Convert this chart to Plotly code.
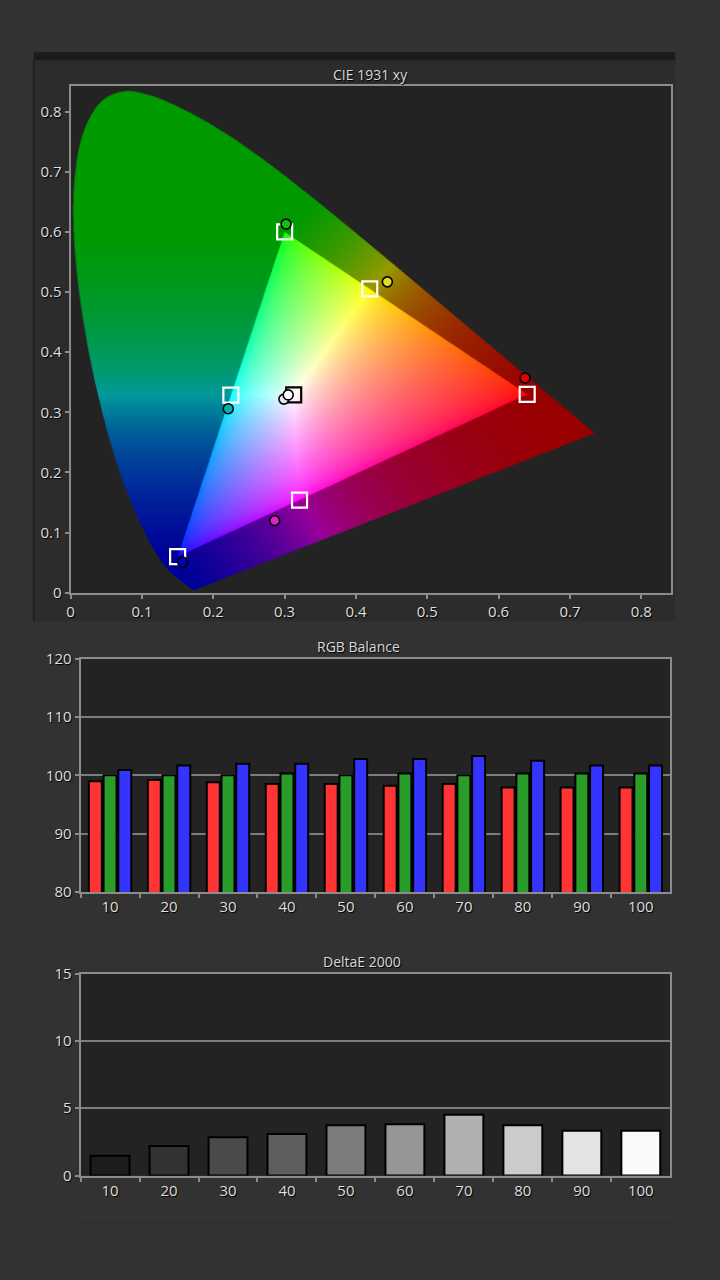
import base64, struct, zlib
import numpy as np
import plotly.graph_objects as go

# CIE 1931 2-degree spectral locus, 380-700 nm (5 nm steps)
locus_x = [0.1741, 0.1740, 0.1738, 0.1736, 0.1733, 0.1730, 0.1726, 0.1721, 0.1714, 0.1703,
           0.1689, 0.1669, 0.1644, 0.1611, 0.1566, 0.1510, 0.1440, 0.1355, 0.1241, 0.1096,
           0.0913, 0.0687, 0.0454, 0.0235, 0.0082, 0.0039, 0.0139, 0.0389, 0.0743, 0.1142,
           0.1547, 0.1929, 0.2296, 0.2658, 0.3016, 0.3373, 0.3731, 0.4087, 0.4441, 0.4788,
           0.5125, 0.5448, 0.5752, 0.6029, 0.6270, 0.6482, 0.6658, 0.6801, 0.6915, 0.7006,
           0.7079, 0.7140, 0.7190, 0.7230, 0.7260, 0.7283, 0.7300, 0.7311, 0.7320, 0.7327,
           0.7334, 0.7340, 0.7344, 0.7346, 0.7347]
locus_y = [0.0050, 0.0050, 0.0049, 0.0049, 0.0048, 0.0048, 0.0048, 0.0048, 0.0051, 0.0058,
           0.0069, 0.0086, 0.0109, 0.0138, 0.0177, 0.0227, 0.0297, 0.0399, 0.0578, 0.0868,
           0.1327, 0.2007, 0.2950, 0.4127, 0.5384, 0.6548, 0.7502, 0.8120, 0.8338, 0.8262,
           0.8059, 0.7816, 0.7543, 0.7243, 0.6923, 0.6589, 0.6245, 0.5896, 0.5547, 0.5202,
           0.4866, 0.4544, 0.4242, 0.3965, 0.3725, 0.3514, 0.3340, 0.3197, 0.3083, 0.2993,
           0.2920, 0.2859, 0.2809, 0.2770, 0.2740, 0.2717, 0.2700, 0.2689, 0.2680, 0.2673,
           0.2666, 0.2660, 0.2656, 0.2654, 0.2653]

# Rec.709 targets (R, G, B, C, M, Y, W)
target_x = [0.640, 0.300, 0.150, 0.2246, 0.3209, 0.4193, 0.3127]
target_y = [0.330, 0.600, 0.060, 0.3287, 0.1542, 0.5053, 0.3290]
target_col = ["white", "white", "white", "white", "white", "white", "black"]

# measured points
meas_x = [0.637, 0.302, 0.157, 0.221, 0.286, 0.444, 0.299, 0.305]
meas_y = [0.357, 0.613, 0.051, 0.306, 0.120, 0.517, 0.322, 0.329]
meas_col = ["#e00000", "#10c010", "#0000b8", "#00b4b4", "#e020c8", "#e0e020", "#e8e8e8", "#ffffff"]

levels = ["10", "20", "30", "40", "50", "60", "70", "80", "90", "100"]
red = [99.0, 99.2, 98.8, 98.5, 98.5, 98.2, 98.5, 97.9, 97.9, 97.9]
green = [100.0, 100.0, 100.0, 100.3, 100.0, 100.3, 100.0, 100.3, 100.3, 100.3]
blue = [100.9, 101.7, 102.0, 102.0, 102.8, 102.8, 103.3, 102.5, 101.7, 101.7]

delta_e = [1.47, 2.2, 2.84, 3.09, 3.73, 3.82, 4.51, 3.73, 3.33, 3.33]
delta_col = ["#1c1c1c", "#323232", "#4a4a4a", "#5e5e5e", "#7c7c7c",
             "#969696", "#b0b0b0", "#cbcbcb", "#e4e4e4", "#fafafa"]

PAGE_W, PAGE_H = 720, 1280


def px_x(p):
    return p / PAGE_W


def px_y(p):
    return 1 - p / PAGE_H


# ---- chromaticity background, rendered into a png ----
X_HI, Y_HI = 0.74, 0.84
W, H, SS = 540, 520, 2
xs = (np.arange(W * SS) + 0.5) / (W * SS) * X_HI
ys = (np.arange(H * SS) + 0.5) / (H * SS) * Y_HI
gx, gy = np.meshgrid(xs, ys[::-1])  # top row first

# smooth outline through the locus points (catmull-rom), closed by the purple line
P = np.column_stack([locus_x, locus_y])
P = np.vstack([P[0], P, P[-1]])
outline = []
for k in range(1, len(P) - 2):
    p0, p1, p2, p3 = P[k - 1], P[k], P[k + 1], P[k + 2]
    for t in np.linspace(0, 1, 8, endpoint=False):
        outline.append(0.5 * (2 * p1 + (p2 - p0) * t + (2 * p0 - 5 * p1 + 4 * p2 - p3) * t ** 2
                              + (3 * p1 - p0 - 3 * p2 + p3) * t ** 3))
outline.append(P[-2])
outline = np.array(outline)

# the horseshoe is convex: per row, keep x between the leftmost and rightmost crossing
ax, ay = outline[:, 0], outline[:, 1]
bx, by = np.roll(ax, -1), np.roll(ay, -1)
left = np.full(ys.shape, np.inf)
right = np.full(ys.shape, -np.inf)
for i in range(len(ax)):
    lo, hi = min(ay[i], by[i]), max(ay[i], by[i])
    rows = (ys >= lo) & (ys < hi)
    if not rows.any():
        continue
    xi = ax[i] + (bx[i] - ax[i]) * (ys[rows] - ay[i]) / (by[i] - ay[i])
    left[rows] = np.minimum(left[rows], xi)
    right[rows] = np.maximum(right[rows], xi)
left, right = left[::-1], right[::-1]
inside = (gx >= left[:, None]) & (gx <= right[:, None])

M = np.array([[3.2406, -1.5372, -0.4986],
              [-0.9689, 1.8758, 0.0415],
              [0.0557, -0.2040, 1.0570]])


def xy_to_rgb(x, y):
    y = np.maximum(y, 1e-4)
    XYZ = np.stack([x / y, np.ones_like(x), (1 - x - y) / y])
    lin = np.einsum("ij,jhw->ihw", M, XYZ)
    lin = np.clip(lin, 0, None)
    return lin / np.maximum(lin.max(axis=0), 1e-9)


def project(px, py, a, b):
    dx, dy = b[0] - a[0], b[1] - a[1]
    t = np.clip(((px - a[0]) * dx + (py - a[1]) * dy) / (dx * dx + dy * dy), 0, 1)
    return a[0] + t * dx, a[1] + t * dy


yy = np.maximum(gy, 1e-4)
lin = np.einsum("ij,jhw->ihw", M, np.stack([gx / yy, np.ones_like(gx), (1 - gx - gy) / yy]))
pr, pg, pb = [(target_x[k], target_y[k]) for k in range(3)]

out_left = lin[0] < 0
out_top = ~out_left & (lin[2] < 0)
out_bot = ~out_left & ~out_top & (lin[1] < 0)
in_gamut = ~(out_left | out_top | out_bot)

# outside the gamut: darker colour of the triangle edge point
t = np.clip((gy - pb[1]) / (pg[1] - pb[1]), 0, 1)
ex, ey = pb[0] + t * (pg[0] - pb[0]), pb[1] + t * (pg[1] - pb[1])
tx, ty = project(gx, gy, pg, pr)
ex, ey = np.where(out_top, tx, ex), np.where(out_top, ty, ey)
tx, ty = project(gx, gy, pb, pr)
ex, ey = np.where(out_bot, tx, ex), np.where(out_bot, ty, ey)
edge_col = 0.6 * xy_to_rgb(ex, ey)
inner_col = xy_to_rgb(gx, gy) ** (1 / 1.8)
col = np.where(in_gamut, inner_col, edge_col)

a = inside.astype(float)
rgb_a = (col * a).reshape(3, H, SS, W, SS).sum(axis=(2, 4))
a_sum = a.reshape(H, SS, W, SS).sum(axis=(1, 3))
rgb_img = rgb_a / np.maximum(a_sum, 1e-9)
alpha = a_sum / (SS * SS)
img = np.concatenate([rgb_img, alpha[None]], axis=0).transpose(1, 2, 0)
img = np.clip(img * 255 + 0.5, 0, 255).astype(np.uint8)


def png_uri(arr):
    h, w, _ = arr.shape
    raw = b"".join(b"\x00" + arr[r].tobytes() for r in range(h))

    def chunk(tag, data):
        return (struct.pack(">I", len(data)) + tag + data
                + struct.pack(">I", zlib.crc32(tag + data) & 0xffffffff))

    png = (b"\x89PNG\r\n\x1a\n"
           + chunk(b"IHDR", struct.pack(">IIBBBBB", w, h, 8, 6, 0, 0, 0))
           + chunk(b"IDAT", zlib.compress(raw, 9))
           + chunk(b"IEND", b""))
    return "data:image/png;base64," + base64.b64encode(png).decode()


fig = go.Figure()

# CIE targets and measurements
fig.add_trace(go.Scatter(x=target_x, y=target_y, mode="markers", xaxis="x", yaxis="y",
                         marker=dict(symbol="square-open", size=15, color=target_col,
                                     line=dict(width=2.2)),
                         hoverinfo="skip"))
fig.add_trace(go.Scatter(x=meas_x, y=meas_y, mode="markers", xaxis="x", yaxis="y",
                         marker=dict(symbol="circle", size=10, color=meas_col,
                                     line=dict(color="black", width=1.6)),
                         hoverinfo="skip"))

# RGB balance
for vals, col in [(red, "#ff3434"), (green, "#2a9c2a"), (blue, "#3434ff")]:
    fig.add_trace(go.Bar(x=levels, y=vals, xaxis="x2", yaxis="y2",
                         marker=dict(color=col, line=dict(color="black", width=2))))

# DeltaE 2000
fig.add_trace(go.Bar(x=levels, y=delta_e, xaxis="x3", yaxis="y3",
                     marker=dict(color=delta_col, line=dict(color="black", width=2))))

frame = dict(showline=True, mirror=True, linecolor="#8c8c8c", linewidth=2,
             ticks="outside", ticklen=4, tickwidth=2, tickcolor="#8c8c8c",
             zeroline=False, fixedrange=True)

fig.update_layout(
    width=PAGE_W, height=PAGE_H,
    margin=dict(l=0, r=0, t=0, b=0),
    paper_bgcolor="#323232", plot_bgcolor="#232323",
    showlegend=False,
    barmode="group", bargap=0.25, bargroupgap=0.12,
    font=dict(family="Open Sans", size=15, color="#dedede",
              shadow="1px 1px 1px #000"),
    xaxis=dict(domain=[px_x(67), px_x(671)], range=[0, 0.842], anchor="y",
               dtick=0.1, showgrid=False, **frame),
    yaxis=dict(domain=[px_y(591), px_y(76)], range=[0, 0.843], anchor="x",
               dtick=0.1, showgrid=False, **frame),
    xaxis2=dict(domain=[px_x(77), px_x(670)], anchor="y2", type="category",
                tickson="boundaries", showgrid=False, **frame),
    yaxis2=dict(domain=[px_y(895), px_y(658)], range=[80, 120], anchor="x2",
                dtick=10, showgrid=True, gridcolor="#7c7c7c", gridwidth=2, **frame),
    xaxis3=dict(domain=[px_x(77), px_x(670)], anchor="y3", type="category",
                tickson="boundaries", showgrid=False, **frame),
    yaxis3=dict(domain=[px_y(1183), px_y(978)], range=[0, 15], anchor="x3",
                dtick=5, showgrid=True, gridcolor="#7c7c7c", gridwidth=2, **frame),
)

fig.add_layout_image(source=png_uri(img), xref="x", yref="y", x=0, y=Y_HI,
                     sizex=X_HI, sizey=Y_HI, sizing="stretch",
                     xanchor="left", yanchor="top", layer="below")

# panel around the CIE chart (strips that stay out of the plot area)
panel = "#2c2c2c"
for x0, y0, x1, y1 in [(30, 50, 675, 76), (30, 591, 675, 620),
                       (30, 76, 67, 591), (671, 76, 675, 591)]:
    fig.add_shape(type="rect", xref="paper", yref="paper", layer="below",
                  x0=px_x(x0), y0=px_y(y0), x1=px_x(x1), y1=px_y(y1),
                  fillcolor=panel, line=dict(width=0))
fig.add_shape(type="rect", xref="paper", yref="paper", layer="below",
              x0=px_x(30), y0=px_y(42), x1=px_x(675), y1=px_y(50),
              fillcolor="#1b1b1b", line=dict(width=0))
fig.add_shape(type="line", xref="paper", yref="paper", layer="below",
              x0=px_x(30), y0=px_y(50), x1=px_x(30), y1=px_y(620),
              line=dict(color="#202020", width=2))
fig.add_shape(type="line", xref="paper", yref="paper", layer="below",
              x0=px_x(77), y0=px_y(1226), x1=px_x(672), y1=px_y(1226),
              line=dict(color="#3a3a3a", width=1))

# chart titles
for txt, cx, cy in [("CIE 1931 xy", 369, 65), ("RGB Balance", 356, 646),
                    ("DeltaE 2000", 360, 966)]:
    fig.add_annotation(text=txt, xref="paper", yref="paper", x=px_x(cx), y=px_y(cy),
                       xanchor="center", yanchor="middle", showarrow=False,
                       font=dict(size=14, color="#dadada"))

fig.write_html("out.html", config={"displayModeBar": False},
               post_script="document.body.style.margin='0';"
                           "document.body.style.overflow='hidden';")
